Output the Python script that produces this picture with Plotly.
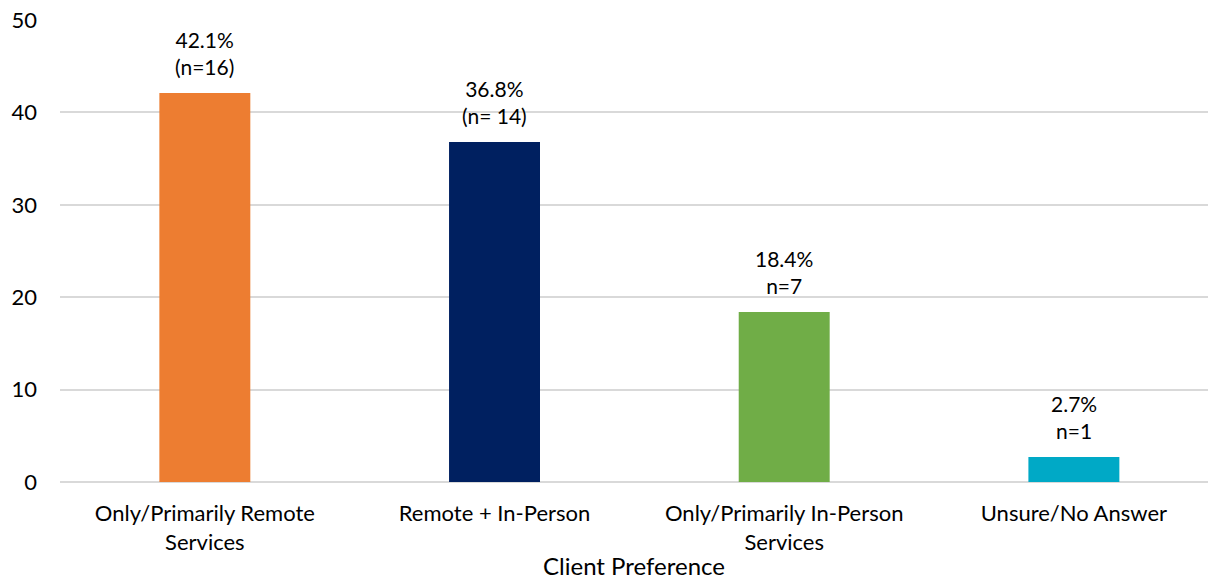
import plotly.graph_objects as go

categories = ["Only/Primarily Remote<br>Services", "Remote + In-Person",
              "Only/Primarily In-Person<br>Services", "Unsure/No Answer"]
percentages = [42.1, 36.8, 18.4, 2.7]
labels = ["42.1%<br>(n=16)", "36.8%<br>(n= 14)", "18.4%<br>n=7", "2.7%<br>n=1"]
colors = ["#ED7D31", "#002060", "#70AD47", "#00A9C6"]
y_ticks = [0, 10, 20, 30, 40, 50]

FONT = "Lato, 'Open Sans', sans-serif"

fig = go.Figure(go.Bar(
    x=categories,
    y=percentages,
    marker=dict(color=colors, line=dict(width=0)),
    cliponaxis=False,
    width=0.314,
    hoverinfo="x+y",
))

# Two-line value labels placed above each bar
for cat, val, lab in zip(categories, percentages, labels):
    fig.add_annotation(
        x=cat, y=val, text=lab, showarrow=False,
        xanchor="center", yanchor="middle", yshift=40,
        font=dict(family=FONT, size=21, color="#000000"),
    )

fig.update_layout(
    width=1210, height=580,
    margin=dict(l=60, r=2, t=20, b=98),
    paper_bgcolor="white", plot_bgcolor="white",
    font=dict(family=FONT, size=22, color="#000000"),
    showlegend=False,
    xaxis=dict(
        title=dict(text="Client Preference", font=dict(size=24), standoff=0),
        tickfont=dict(size=22),
        showgrid=False, showline=False, ticks="",
        ticklabelstandoff=16,
        range=[-0.5, 3.463],
    ),
    yaxis=dict(
        range=[0, 50], tickvals=y_ticks,
        showgrid=True, gridcolor="#D9D9D9", gridwidth=1.5,
        zeroline=True, zerolinecolor="#D9D9D9", zerolinewidth=1.5,
        showline=False, ticks="", ticklabelstandoff=22,
        tickfont=dict(size=22),
    ),
)

fig.write_html("out.html")
